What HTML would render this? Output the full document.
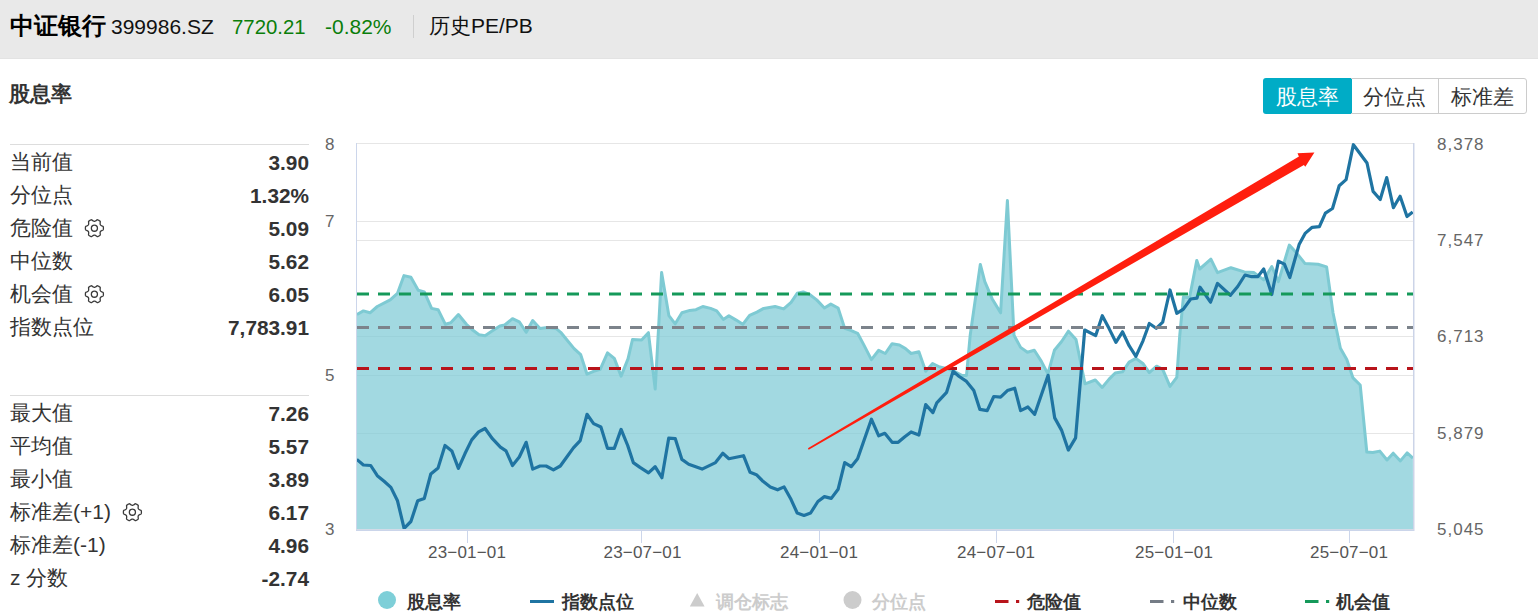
<!DOCTYPE html>
<html><head><meta charset="utf-8">
<style>
*{margin:0;padding:0;box-sizing:border-box}
html,body{width:1538px;height:616px;overflow:hidden;background:#fff;font-family:"Liberation Sans",sans-serif;color:#333}
.abs{position:absolute;white-space:nowrap}
#hdr{position:absolute;left:0;top:0;width:1538px;height:59px;background:#e9e9e9;border-bottom:1px solid #e3e3e3}
.row{position:absolute;left:10px;width:299px;height:33px;font-size:21px;line-height:33px;color:#333}
.row .v{position:absolute;right:0;top:0.5px;font-weight:bold;font-size:20.8px}
.sep{position:absolute;left:10px;width:299px;height:1px;background:#ddd}
.btn{position:absolute;top:78px;height:36px;font-size:21px;line-height:37px;text-align:center}
.lg{position:absolute;top:590px;font-size:18px;font-weight:bold;line-height:24px;color:#333}
.yl{position:absolute;font-size:17px;color:#666;line-height:20px;letter-spacing:1px}
.xl{position:absolute;top:543px;font-size:17px;color:#555;line-height:20px;letter-spacing:0.2px}
</style></head><body>
<div id="hdr">
 <div class="abs" style="left:10px;top:12px;font-size:24px;font-weight:bold;color:#000;line-height:28px">中证银行</div>
 <div class="abs" style="left:111px;top:14px;font-size:21px;color:#111;line-height:26px">399986.SZ</div>
 <div class="abs" style="left:232px;top:14px;font-size:20.4px;color:#0a7e0a;line-height:26px">7720.21</div>
 <div class="abs" style="left:325px;top:14px;font-size:21px;color:#0a7e0a;line-height:26px">-0.82%</div>
 <div class="abs" style="left:413px;top:15px;width:1px;height:23px;background:#cfcfcf"></div>
 <div class="abs" style="left:429px;top:13px;font-size:21px;color:#111;line-height:26px">历史PE/PB</div>
</div>
<div class="abs" style="left:9px;top:80px;font-size:21px;font-weight:bold;color:#333;line-height:28px">股息率</div>

<div class="sep" style="top:144px"></div>
<div class="row" style="top:145px">当前值<span class="v">3.90</span></div>
<div class="row" style="top:178px">分位点<span class="v">1.32%</span></div>
<div class="row" style="top:211px">危险值<span class="v">5.09</span></div>
<div class="row" style="top:244px">中位数<span class="v">5.62</span></div>
<div class="row" style="top:277px">机会值<span class="v">6.05</span></div>
<div class="row" style="top:310px">指数点位<span class="v">7,783.91</span></div>

<div class="sep" style="top:395px"></div>
<div class="row" style="top:396px">最大值<span class="v">7.26</span></div>
<div class="row" style="top:429px">平均值<span class="v">5.57</span></div>
<div class="row" style="top:462px">最小值<span class="v">3.89</span></div>
<div class="row" style="top:495px">标准差(+1)<span class="v">6.17</span></div>
<div class="row" style="top:528px">标准差(-1)<span class="v">4.96</span></div>
<div class="row" style="top:561px">z 分数<span class="v">-2.74</span></div>

<div class="btn" style="left:1263px;width:89px;background:#00acc6;color:#fff;border-radius:3px 0 0 3px">股息率</div>
<div class="btn" style="left:1351px;width:88px;border:1px solid #ccc;border-left:none;color:#333;line-height:35px">分位点</div>
<div class="btn" style="left:1438px;width:89px;border:1px solid #ccc;border-radius:0 3px 3px 0;color:#333;line-height:35px">标准差</div>

<svg class="abs" style="left:0;top:0" width="1538" height="616" viewBox="0 0 1538 616">
 <!-- gear icons -->
 <g fill="none" stroke="#3a3a3a" stroke-width="1.3">
  <g transform="translate(94.4,228.2)"><polygon points="9.00,0.00 8.99,0.31 8.98,0.63 8.95,0.94 8.91,1.25 8.86,1.56 8.59,1.83 8.14,2.03 7.73,2.22 7.36,2.39 7.03,2.56 6.74,2.72 6.49,2.89 6.29,3.07 6.11,3.25 5.98,3.45 5.87,3.67 5.80,3.91 5.75,4.18 5.73,4.48 5.73,4.81 5.75,5.18 5.78,5.59 5.83,6.03 5.88,6.53 5.79,6.89 5.54,7.09 5.29,7.28 5.03,7.46 4.77,7.63 4.50,7.79 4.23,7.95 3.95,8.09 3.66,8.22 3.37,8.34 3.08,8.46 2.71,8.35 2.31,8.06 1.95,7.80 1.61,7.57 1.30,7.37 1.01,7.20 0.74,7.07 0.49,6.98 0.24,6.92 0.00,6.90 -0.24,6.92 -0.49,6.98 -0.74,7.07 -1.01,7.20 -1.30,7.37 -1.61,7.57 -1.95,7.80 -2.31,8.06 -2.71,8.35 -3.08,8.46 -3.37,8.34 -3.66,8.22 -3.95,8.09 -4.23,7.95 -4.50,7.79 -4.77,7.63 -5.03,7.46 -5.29,7.28 -5.54,7.09 -5.79,6.89 -5.88,6.53 -5.83,6.03 -5.78,5.59 -5.75,5.18 -5.73,4.81 -5.73,4.48 -5.75,4.18 -5.80,3.91 -5.87,3.67 -5.98,3.45 -6.11,3.25 -6.29,3.07 -6.49,2.89 -6.74,2.72 -7.03,2.56 -7.36,2.39 -7.73,2.22 -8.14,2.03 -8.59,1.83 -8.86,1.56 -8.91,1.25 -8.95,0.94 -8.98,0.63 -8.99,0.31 -9.00,0.00 -8.99,-0.31 -8.98,-0.63 -8.95,-0.94 -8.91,-1.25 -8.86,-1.56 -8.59,-1.83 -8.14,-2.03 -7.73,-2.22 -7.36,-2.39 -7.03,-2.56 -6.74,-2.72 -6.49,-2.89 -6.29,-3.07 -6.11,-3.25 -5.98,-3.45 -5.87,-3.67 -5.80,-3.91 -5.75,-4.18 -5.73,-4.48 -5.73,-4.81 -5.75,-5.18 -5.78,-5.59 -5.83,-6.03 -5.88,-6.53 -5.79,-6.89 -5.54,-7.09 -5.29,-7.28 -5.03,-7.46 -4.77,-7.63 -4.50,-7.79 -4.23,-7.95 -3.95,-8.09 -3.66,-8.22 -3.37,-8.34 -3.08,-8.46 -2.71,-8.35 -2.31,-8.06 -1.95,-7.80 -1.61,-7.57 -1.30,-7.37 -1.01,-7.20 -0.74,-7.07 -0.49,-6.98 -0.24,-6.92 -0.00,-6.90 0.24,-6.92 0.49,-6.98 0.74,-7.07 1.01,-7.20 1.30,-7.37 1.61,-7.57 1.95,-7.80 2.31,-8.06 2.71,-8.35 3.08,-8.46 3.37,-8.34 3.66,-8.22 3.95,-8.09 4.23,-7.95 4.50,-7.79 4.77,-7.63 5.03,-7.46 5.29,-7.28 5.54,-7.09 5.79,-6.89 5.88,-6.53 5.83,-6.03 5.78,-5.59 5.75,-5.18 5.73,-4.81 5.73,-4.48 5.75,-4.18 5.80,-3.91 5.87,-3.67 5.98,-3.45 6.11,-3.25 6.29,-3.07 6.49,-2.89 6.74,-2.72 7.03,-2.56 7.36,-2.39 7.73,-2.22 8.14,-2.03 8.59,-1.83 8.86,-1.56 8.91,-1.25 8.95,-0.94 8.98,-0.63 8.99,-0.31" stroke-linejoin="round"/><circle r="3.05"/></g>
  <g transform="translate(94.4,294.2)"><polygon points="9.00,0.00 8.99,0.31 8.98,0.63 8.95,0.94 8.91,1.25 8.86,1.56 8.59,1.83 8.14,2.03 7.73,2.22 7.36,2.39 7.03,2.56 6.74,2.72 6.49,2.89 6.29,3.07 6.11,3.25 5.98,3.45 5.87,3.67 5.80,3.91 5.75,4.18 5.73,4.48 5.73,4.81 5.75,5.18 5.78,5.59 5.83,6.03 5.88,6.53 5.79,6.89 5.54,7.09 5.29,7.28 5.03,7.46 4.77,7.63 4.50,7.79 4.23,7.95 3.95,8.09 3.66,8.22 3.37,8.34 3.08,8.46 2.71,8.35 2.31,8.06 1.95,7.80 1.61,7.57 1.30,7.37 1.01,7.20 0.74,7.07 0.49,6.98 0.24,6.92 0.00,6.90 -0.24,6.92 -0.49,6.98 -0.74,7.07 -1.01,7.20 -1.30,7.37 -1.61,7.57 -1.95,7.80 -2.31,8.06 -2.71,8.35 -3.08,8.46 -3.37,8.34 -3.66,8.22 -3.95,8.09 -4.23,7.95 -4.50,7.79 -4.77,7.63 -5.03,7.46 -5.29,7.28 -5.54,7.09 -5.79,6.89 -5.88,6.53 -5.83,6.03 -5.78,5.59 -5.75,5.18 -5.73,4.81 -5.73,4.48 -5.75,4.18 -5.80,3.91 -5.87,3.67 -5.98,3.45 -6.11,3.25 -6.29,3.07 -6.49,2.89 -6.74,2.72 -7.03,2.56 -7.36,2.39 -7.73,2.22 -8.14,2.03 -8.59,1.83 -8.86,1.56 -8.91,1.25 -8.95,0.94 -8.98,0.63 -8.99,0.31 -9.00,0.00 -8.99,-0.31 -8.98,-0.63 -8.95,-0.94 -8.91,-1.25 -8.86,-1.56 -8.59,-1.83 -8.14,-2.03 -7.73,-2.22 -7.36,-2.39 -7.03,-2.56 -6.74,-2.72 -6.49,-2.89 -6.29,-3.07 -6.11,-3.25 -5.98,-3.45 -5.87,-3.67 -5.80,-3.91 -5.75,-4.18 -5.73,-4.48 -5.73,-4.81 -5.75,-5.18 -5.78,-5.59 -5.83,-6.03 -5.88,-6.53 -5.79,-6.89 -5.54,-7.09 -5.29,-7.28 -5.03,-7.46 -4.77,-7.63 -4.50,-7.79 -4.23,-7.95 -3.95,-8.09 -3.66,-8.22 -3.37,-8.34 -3.08,-8.46 -2.71,-8.35 -2.31,-8.06 -1.95,-7.80 -1.61,-7.57 -1.30,-7.37 -1.01,-7.20 -0.74,-7.07 -0.49,-6.98 -0.24,-6.92 -0.00,-6.90 0.24,-6.92 0.49,-6.98 0.74,-7.07 1.01,-7.20 1.30,-7.37 1.61,-7.57 1.95,-7.80 2.31,-8.06 2.71,-8.35 3.08,-8.46 3.37,-8.34 3.66,-8.22 3.95,-8.09 4.23,-7.95 4.50,-7.79 4.77,-7.63 5.03,-7.46 5.29,-7.28 5.54,-7.09 5.79,-6.89 5.88,-6.53 5.83,-6.03 5.78,-5.59 5.75,-5.18 5.73,-4.81 5.73,-4.48 5.75,-4.18 5.80,-3.91 5.87,-3.67 5.98,-3.45 6.11,-3.25 6.29,-3.07 6.49,-2.89 6.74,-2.72 7.03,-2.56 7.36,-2.39 7.73,-2.22 8.14,-2.03 8.59,-1.83 8.86,-1.56 8.91,-1.25 8.95,-0.94 8.98,-0.63 8.99,-0.31" stroke-linejoin="round"/><circle r="3.05"/></g>
  <g transform="translate(132.4,512.2)"><polygon points="9.00,0.00 8.99,0.31 8.98,0.63 8.95,0.94 8.91,1.25 8.86,1.56 8.59,1.83 8.14,2.03 7.73,2.22 7.36,2.39 7.03,2.56 6.74,2.72 6.49,2.89 6.29,3.07 6.11,3.25 5.98,3.45 5.87,3.67 5.80,3.91 5.75,4.18 5.73,4.48 5.73,4.81 5.75,5.18 5.78,5.59 5.83,6.03 5.88,6.53 5.79,6.89 5.54,7.09 5.29,7.28 5.03,7.46 4.77,7.63 4.50,7.79 4.23,7.95 3.95,8.09 3.66,8.22 3.37,8.34 3.08,8.46 2.71,8.35 2.31,8.06 1.95,7.80 1.61,7.57 1.30,7.37 1.01,7.20 0.74,7.07 0.49,6.98 0.24,6.92 0.00,6.90 -0.24,6.92 -0.49,6.98 -0.74,7.07 -1.01,7.20 -1.30,7.37 -1.61,7.57 -1.95,7.80 -2.31,8.06 -2.71,8.35 -3.08,8.46 -3.37,8.34 -3.66,8.22 -3.95,8.09 -4.23,7.95 -4.50,7.79 -4.77,7.63 -5.03,7.46 -5.29,7.28 -5.54,7.09 -5.79,6.89 -5.88,6.53 -5.83,6.03 -5.78,5.59 -5.75,5.18 -5.73,4.81 -5.73,4.48 -5.75,4.18 -5.80,3.91 -5.87,3.67 -5.98,3.45 -6.11,3.25 -6.29,3.07 -6.49,2.89 -6.74,2.72 -7.03,2.56 -7.36,2.39 -7.73,2.22 -8.14,2.03 -8.59,1.83 -8.86,1.56 -8.91,1.25 -8.95,0.94 -8.98,0.63 -8.99,0.31 -9.00,0.00 -8.99,-0.31 -8.98,-0.63 -8.95,-0.94 -8.91,-1.25 -8.86,-1.56 -8.59,-1.83 -8.14,-2.03 -7.73,-2.22 -7.36,-2.39 -7.03,-2.56 -6.74,-2.72 -6.49,-2.89 -6.29,-3.07 -6.11,-3.25 -5.98,-3.45 -5.87,-3.67 -5.80,-3.91 -5.75,-4.18 -5.73,-4.48 -5.73,-4.81 -5.75,-5.18 -5.78,-5.59 -5.83,-6.03 -5.88,-6.53 -5.79,-6.89 -5.54,-7.09 -5.29,-7.28 -5.03,-7.46 -4.77,-7.63 -4.50,-7.79 -4.23,-7.95 -3.95,-8.09 -3.66,-8.22 -3.37,-8.34 -3.08,-8.46 -2.71,-8.35 -2.31,-8.06 -1.95,-7.80 -1.61,-7.57 -1.30,-7.37 -1.01,-7.20 -0.74,-7.07 -0.49,-6.98 -0.24,-6.92 -0.00,-6.90 0.24,-6.92 0.49,-6.98 0.74,-7.07 1.01,-7.20 1.30,-7.37 1.61,-7.57 1.95,-7.80 2.31,-8.06 2.71,-8.35 3.08,-8.46 3.37,-8.34 3.66,-8.22 3.95,-8.09 4.23,-7.95 4.50,-7.79 4.77,-7.63 5.03,-7.46 5.29,-7.28 5.54,-7.09 5.79,-6.89 5.88,-6.53 5.83,-6.03 5.78,-5.59 5.75,-5.18 5.73,-4.81 5.73,-4.48 5.75,-4.18 5.80,-3.91 5.87,-3.67 5.98,-3.45 6.11,-3.25 6.29,-3.07 6.49,-2.89 6.74,-2.72 7.03,-2.56 7.36,-2.39 7.73,-2.22 8.14,-2.03 8.59,-1.83 8.86,-1.56 8.91,-1.25 8.95,-0.94 8.98,-0.63 8.99,-0.31" stroke-linejoin="round"/><circle r="3.05"/></g>
 </g>
 <!-- grid -->
 <g stroke="#e6e6e6" stroke-width="1" shape-rendering="crispEdges">
  <line x1="357" y1="143.5" x2="1413" y2="143.5"/>
  <line x1="357" y1="221.5" x2="1413" y2="221.5"/>
  <line x1="357" y1="240.5" x2="1413" y2="240.5"/>
  <line x1="357" y1="336.5" x2="1413" y2="336.5"/>
  <line x1="357" y1="375.5" x2="1413" y2="375.5"/>
  <line x1="357" y1="433.5" x2="1413" y2="433.5"/>
 </g>
 <polygon points="357,529 357,314.5 363.4,310.9 370,312.8 377.3,306.5 390.2,299.9 397.5,293.3 404,275.6 410.9,277.3 418.2,290.2 424.3,291.9 431.6,308.4 438.1,309.7 445.4,324.3 451,322.6 458.4,314.5 466.4,324.3 473,330.3 479,334.7 485.1,335.7 492.4,330.8 499.9,326 504.7,325 512.5,318.7 519.3,321.8 526.2,332.3 532.7,320.6 540,328.4 547.4,327.4 555.9,328.4 560.7,332.3 568,341.3 574.1,348.6 580.7,354.7 587,374.2 593.6,371.3 600.2,369.3 607.5,352.8 614.3,358.4 621.1,376.1 628,358.9 632.5,339.5 641.6,340 648.4,332.7 655.2,389.1 661.6,272.5 668.9,315.7 675.2,323.8 681.9,312.8 689.9,310.4 696,309.7 702.8,306.5 710.6,308.4 716.7,310.9 723.3,319.4 728.9,315.7 736.2,320.1 742.8,324.3 749.6,315.3 756.9,312.1 763.7,308.4 775.1,306.5 783.7,308.9 791.1,302.3 797.2,293.3 803.3,291.9 809.3,294.3 816.7,299.9 824.4,308 830.8,304.1 838.1,308 844.7,328.4 850.7,330.3 857.6,333.3 864.1,345.4 871.4,359.6 878.7,350.3 885.3,353.5 892.1,343.7 899.4,345 905.5,348.6 911.1,353.5 918.9,351.8 925.7,371.3 932.6,363.5 939.7,367 948.3,369 955.6,372 961.7,375.4 966.5,375.4 970.2,335.2 980.3,264.4 984.8,281.7 992.1,298.7 1000.6,312.8 1007.4,200.6 1014,335.2 1020.6,347.4 1027.4,352.3 1034.3,350.3 1041.4,361.4 1047.9,373.9 1054.4,350.3 1061.6,341.5 1068.5,331.2 1076,339.5 1085,383.8 1095.3,380 1102.2,387.5 1109.1,379.1 1115.2,373 1122.5,371.8 1129.1,362.1 1135.9,358.4 1143.2,363.8 1149.3,372.6 1156.6,366.2 1162.7,369.4 1170,386.4 1176.8,377.4 1179.7,336 1183.4,297 1189.5,297.7 1196.8,260.4 1199.7,269 1210.9,259.2 1217.5,272.6 1230.9,267.7 1244.3,271.9 1254,272.6 1263.7,279.9 1271.8,266.5 1278.4,281.6 1289.3,245.1 1296.6,253.1 1305.1,263.6 1318,264.3 1326.6,266.9 1333,312.8 1340.4,348.3 1346.8,359.5 1353,377.9 1360.2,385 1366.8,452 1372.7,452.5 1379.8,451.1 1387,460 1393.2,453.2 1400.4,460.9 1407.1,452.9 1412.9,458.2 1413,529" fill="#7ecbd5" fill-opacity="0.72" stroke="none"/>
 <polyline points="357,314.5 363.4,310.9 370,312.8 377.3,306.5 390.2,299.9 397.5,293.3 404,275.6 410.9,277.3 418.2,290.2 424.3,291.9 431.6,308.4 438.1,309.7 445.4,324.3 451,322.6 458.4,314.5 466.4,324.3 473,330.3 479,334.7 485.1,335.7 492.4,330.8 499.9,326 504.7,325 512.5,318.7 519.3,321.8 526.2,332.3 532.7,320.6 540,328.4 547.4,327.4 555.9,328.4 560.7,332.3 568,341.3 574.1,348.6 580.7,354.7 587,374.2 593.6,371.3 600.2,369.3 607.5,352.8 614.3,358.4 621.1,376.1 628,358.9 632.5,339.5 641.6,340 648.4,332.7 655.2,389.1 661.6,272.5 668.9,315.7 675.2,323.8 681.9,312.8 689.9,310.4 696,309.7 702.8,306.5 710.6,308.4 716.7,310.9 723.3,319.4 728.9,315.7 736.2,320.1 742.8,324.3 749.6,315.3 756.9,312.1 763.7,308.4 775.1,306.5 783.7,308.9 791.1,302.3 797.2,293.3 803.3,291.9 809.3,294.3 816.7,299.9 824.4,308 830.8,304.1 838.1,308 844.7,328.4 850.7,330.3 857.6,333.3 864.1,345.4 871.4,359.6 878.7,350.3 885.3,353.5 892.1,343.7 899.4,345 905.5,348.6 911.1,353.5 918.9,351.8 925.7,371.3 932.6,363.5 939.7,367 948.3,369 955.6,372 961.7,375.4 966.5,375.4 970.2,335.2 980.3,264.4 984.8,281.7 992.1,298.7 1000.6,312.8 1007.4,200.6 1014,335.2 1020.6,347.4 1027.4,352.3 1034.3,350.3 1041.4,361.4 1047.9,373.9 1054.4,350.3 1061.6,341.5 1068.5,331.2 1076,339.5 1085,383.8 1095.3,380 1102.2,387.5 1109.1,379.1 1115.2,373 1122.5,371.8 1129.1,362.1 1135.9,358.4 1143.2,363.8 1149.3,372.6 1156.6,366.2 1162.7,369.4 1170,386.4 1176.8,377.4 1179.7,336 1183.4,297 1189.5,297.7 1196.8,260.4 1199.7,269 1210.9,259.2 1217.5,272.6 1230.9,267.7 1244.3,271.9 1254,272.6 1263.7,279.9 1271.8,266.5 1278.4,281.6 1289.3,245.1 1296.6,253.1 1305.1,263.6 1318,264.3 1326.6,266.9 1333,312.8 1340.4,348.3 1346.8,359.5 1353,377.9 1360.2,385 1366.8,452 1372.7,452.5 1379.8,451.1 1387,460 1393.2,453.2 1400.4,460.9 1407.1,452.9 1412.9,458.2" fill="none" stroke="#7ecad3" stroke-width="3" stroke-linejoin="round"/>
 <polyline points="356.8,459.4 363.4,465 370.7,465.5 377.3,475.7 384.1,481.3 390.9,487.4 397.5,500.8 404.1,528.3 410.9,521.5 417.7,500.8 424.3,498.4 430.8,474 438.1,467.9 445,445.5 451.8,450.9 458.4,468.4 464.9,453.8 471.7,439.9 478.6,431.9 485.1,428.5 492.4,438.7 500.4,447.2 506,450.9 512.5,465.5 519.3,457 526.2,442.3 532.7,469.1 540,466 546.1,466 553.4,469.9 560.3,466 566.8,457 573.4,447.9 580.2,440.6 587,414.3 593.6,423.6 600.9,427 607.5,448.4 614.3,448.4 621.1,429.4 627.7,445.5 633.3,462.6 640,467.4 648.5,472.8 655.1,466.7 661.9,477.7 668.7,438.2 675.3,438.7 681.9,459.4 688.7,464.3 702.1,469.1 715.5,462.6 722.8,453.3 728.9,458.7 743.5,455.7 750.1,472.3 756.4,474.7 763,481.3 770.3,486.9 777.6,489.8 784.1,486.9 791.1,499.6 797.2,513 804,515.4 810.6,513 817.9,501.5 824.4,496.6 831.3,498.4 838.1,489.3 844.7,462.6 851.2,466.7 857.6,458.7 871.4,419.2 878.7,435.8 884.8,433.3 892.1,442.3 898.2,442.3 904.8,436.7 911.1,431.9 918.9,435 925.7,404.6 932.9,412.6 936.8,402.8 946.6,392.3 953.1,371.2 959.2,376.5 966.5,381.4 973.8,390.6 979.9,409.4 987.2,410.6 993.8,396.5 1000.6,397.2 1007.4,390.6 1014.7,388.2 1020.6,410.6 1027.9,407 1034.7,414.3 1048.1,375.3 1054.7,417.9 1061.5,430.1 1068.3,450.1 1075.6,437.9 1084.7,330 1095.7,335.6 1102.3,315.7 1109.1,328.6 1115.9,342.3 1122.5,331.8 1129.1,345.7 1135.9,356.3 1143,340.8 1149.3,323.5 1156.2,328.3 1162.7,322.2 1170,290 1176.8,313.3 1183.4,309.1 1190.7,299 1197,298.2 1200,287.2 1210.5,302.2 1217.5,283.4 1230.4,295.3 1237.7,286.5 1245,275 1251.6,276.7 1257.7,276.7 1263.7,269 1271.8,294.5 1278.4,261.2 1284.4,264.1 1289.8,277.5 1299.1,244.6 1305.1,233.4 1312.2,227.3 1319.4,226.7 1325.4,213.1 1332.5,208.5 1339.2,185.7 1346.1,179.6 1353.4,144.7 1367,163 1373.1,191.4 1380.2,199.5 1386.7,177.6 1393.4,207.6 1400.1,196.3 1407,216.6 1412.7,212.1" fill="none" stroke="#1f74a2" stroke-width="3.2" stroke-linejoin="round"/>
 <g stroke-width="3" stroke-dasharray="12 9" fill="none">
  <line x1="357" y1="294" x2="1413" y2="294" stroke="#15995a"/>
  <line x1="357" y1="327.5" x2="1413" y2="327.5" stroke="#7c838b"/>
  <line x1="357" y1="368.5" x2="1413" y2="368.5" stroke="#b8141b"/>
 </g>
 <polygon points="807.9,448.3 1298.9,156.5 1297.5,153.3 1314.4,152.4 1305.3,166.7 1303.9,165.1 808.7,449.7" fill="#ff1e0e"/>
 <!-- axes -->
 <g shape-rendering="crispEdges">
  <rect x="356" y="143" width="1" height="387" fill="#ccd6eb"/>
  <rect x="1413" y="143" width="1" height="388" fill="#ccd4e8"/>
  <rect x="1414" y="143" width="1" height="388" fill="#e6eaf3"/>
  <rect x="356" y="529" width="1058" height="1" fill="#d2dbe7"/>
  <rect x="356" y="530" width="1058" height="1" fill="#cbd5ea"/>
 </g>
 <g stroke="#ccd6eb" stroke-width="1" shape-rendering="crispEdges">
  <line x1="467.5" y1="531" x2="467.5" y2="543"/>
  <line x1="641.5" y1="531" x2="641.5" y2="543"/>
  <line x1="819.5" y1="531" x2="819.5" y2="543"/>
  <line x1="996.5" y1="531" x2="996.5" y2="543"/>
  <line x1="1173.5" y1="531" x2="1173.5" y2="543"/>
  <line x1="1349.5" y1="531" x2="1349.5" y2="543"/>
 </g>
 <!-- legend shapes -->
 <circle cx="387" cy="600" r="9" fill="#7ecfd8"/>
 <rect x="530" y="600" width="24" height="3" fill="#1f74a2"/>
 <polygon points="697.2,593 704.6,606.6 689.8,606.6" fill="#ccc"/>
 <circle cx="852.5" cy="600" r="9" fill="#ccc"/>
 <rect x="995" y="600" width="13.5" height="3" fill="#b8141b"/>
 <rect x="1016" y="600" width="3.2" height="3" fill="#b8141b"/>
 <rect x="1150" y="600" width="13.5" height="3" fill="#757c86"/>
 <rect x="1171" y="600" width="3.2" height="3" fill="#757c86"/>
 <rect x="1305" y="600" width="13.5" height="3" fill="#15995a"/>
 <rect x="1326" y="600" width="3.2" height="3" fill="#15995a"/>
</svg>

<div class="yl" style="left:325px;top:135px">8</div>
<div class="yl" style="left:325px;top:212px">7</div>
<div class="yl" style="left:325px;top:366px">5</div>
<div class="yl" style="left:325px;top:520px">3</div>
<div class="yl" style="left:1437px;top:135px">8,378</div>
<div class="yl" style="left:1437px;top:231px">7,547</div>
<div class="yl" style="left:1437px;top:327px">6,713</div>
<div class="yl" style="left:1437px;top:424px">5,879</div>
<div class="yl" style="left:1437px;top:520px">5,045</div>

<div class="xl" style="left:428px">23−01−01</div>
<div class="xl" style="left:603.5px">23−07−01</div>
<div class="xl" style="left:780px">24−01−01</div>
<div class="xl" style="left:957px">24−07−01</div>
<div class="xl" style="left:1135px">25−01−01</div>
<div class="xl" style="left:1310px">25−07−01</div>

<div class="lg" style="left:407px">股息率</div>
<div class="lg" style="left:562px">指数点位</div>
<div class="lg" style="left:716px;color:#ccc">调仓标志</div>
<div class="lg" style="left:872px;color:#ccc">分位点</div>
<div class="lg" style="left:1027px">危险值</div>
<div class="lg" style="left:1183px">中位数</div>
<div class="lg" style="left:1336px">机会值</div>
</body></html>
